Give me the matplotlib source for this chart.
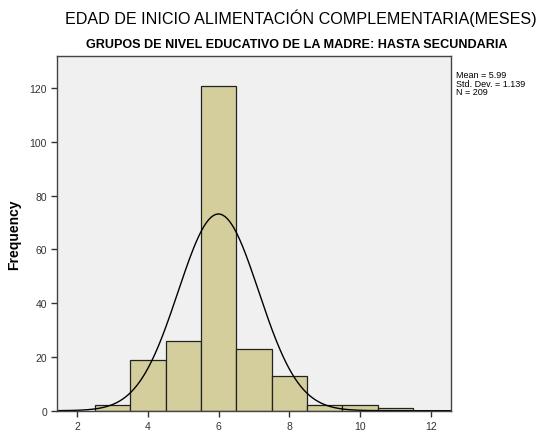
import numpy as np
import matplotlib
matplotlib.use("Agg")
import matplotlib.pyplot as plt

# bin centres (months) and counts
centers = [3, 4, 5, 6, 7, 8, 9, 10, 11]
counts = [2, 19, 26, 121, 23, 13, 2, 2, 1]
mean = 5.99
std = 1.139
n = 209
xticks = [2, 4, 6, 8, 10, 12]
yticks = [0, 20, 40, 60, 80, 100, 120]

plt.rcParams['font.family'] = ['Liberation Sans', 'DejaVu Sans']

fig = plt.figure(figsize=(5.39, 4.31), dpi=100)
ax = fig.add_axes([0.1063, 0.0448, 0.7304, 0.8229])
ax.set_facecolor('#f0f0f0')

ax.bar(centers, counts, width=1.0, color='#d3ce9b', edgecolor='#222222', linewidth=0.9)

# normal curve scaled to counts (bin width 1)
xs = np.linspace(1.43, 12.57, 400)
ys = n / (std * np.sqrt(2 * np.pi)) * np.exp(-0.5 * ((xs - mean) / std) ** 2)
ax.plot(xs, ys, color='black', linewidth=1.0)

ax.set_xlim(1.43, 12.57)
ax.set_ylim(0, 132)
ax.set_xticks(xticks)
ax.set_yticks(yticks)
ax.tick_params(labelsize=7.5, length=4, width=1, colors='#333333', labelcolor='#333333')
for s in ax.spines.values():
    s.set_color('#444444')
    s.set_linewidth(1)

ax.set_ylabel('Frequency', fontsize=10, fontweight='bold', labelpad=6)

fig.text(0.558, 0.958, 'EDAD DE INICIO ALIMENTACIÓN COMPLEMENTARIA(MESES)',
         ha='center', va='center', fontsize=11.6)
fig.text(0.55, 0.895, 'GRUPOS DE NIVEL EDUCATIVO DE LA MADRE: HASTA SECUNDARIA',
         ha='center', va='center', fontsize=9.1, fontweight='bold',
         fontstretch='condensed')
fig.text(0.846, 0.835, 'Mean = %.2f\nStd. Dev. = %.3f\nN = %d' % (mean, std, n),
         ha='left', va='top', fontsize=6.5, linespacing=0.95)

fig.savefig('out.png', dpi=100)
